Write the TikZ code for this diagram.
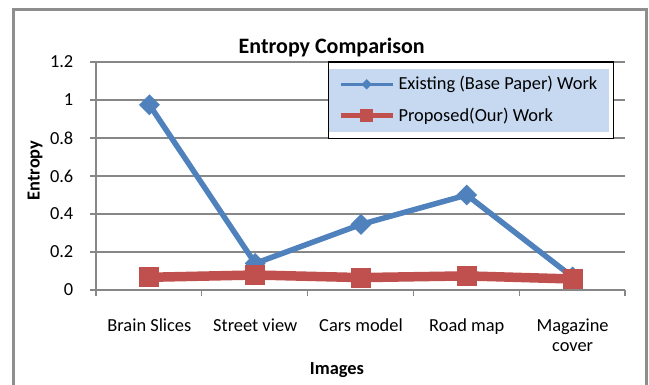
\documentclass[tikz,border=0pt]{standalone}
\usepackage{fontspec}
\setmainfont{Carlito}
\usetikzlibrary{shapes.geometric}
\definecolor{serblue}{HTML}{4F81BD}
\definecolor{serred}{HTML}{C0504D}
\definecolor{gridgray}{HTML}{878787}
\definecolor{framegray}{HTML}{8E8E8E}
\definecolor{legfill}{HTML}{C6D9F1}
\tikzset{
  gridline/.style={draw=gridgray, line width=1.2pt},
  ticklabel/.style={anchor=east, inner sep=0pt, font=\fontsize{18.4}{22}\selectfont},
  catlabel/.style={anchor=base, inner sep=0pt, align=center, font=\fontsize{18.4}{20.3}\selectfont},
  axtitle/.style={inner sep=0pt, font=\bfseries\fontsize{18.4}{22}\selectfont},
  bline/.style={draw=serblue, line width=5.5pt, line join=round},
  rline/.style={draw=serred, line width=9.5pt},
  bdia/.style={diamond, fill=serblue, inner sep=0pt, minimum width=21pt, minimum height=21pt},
  rsq/.style={rectangle, fill=serred, inner sep=0pt, minimum size=20pt},
  legbline/.style={draw=serblue, line width=3.5pt},
  legrline/.style={draw=serred, line width=5pt},
  legdia/.style={diamond, fill=serblue, inner sep=0pt, minimum width=10.5pt, minimum height=10.5pt},
  legsq/.style={rectangle, fill=serred, inner sep=0pt, minimum size=13pt},
  legtext/.style={anchor=base west, inner sep=0pt, font=\fontsize{18.4}{22}\selectfont}
}
\begin{document}
\begin{tikzpicture}[x=1pt,y=-1pt]
\useasboundingbox (0,0) rectangle (649,385);
\clip (0,0) rectangle (649,385);
\fill[white] (0,0) rectangle (649,385);
% outer frame
\draw[framegray, line width=3pt] (13,400) -- (13,10) -- (646.5,10) -- (646.5,400);
% title
\node[axtitle, font=\bfseries\fontsize{22}{26}\selectfont, anchor=base] (title) at (331.7,54) {Entropy Comparison};
% gridlines
\foreach \v/\y in {0.2/252,0.4/214,0.6/176,0.8/138,1/100,1.2/62} {
  \draw[gridline] (90,\y) -- (625,\y);
}
\foreach \v/\y in {0/290,0.2/252,0.4/214,0.6/176,0.8/138,1/100,1.2/62} {
  \node[ticklabel] at (73.5,\y) {\v};
}
% axes
\draw[gridline] (96,62) -- (96,290);
\draw[gridline] (90,290) -- (625,290);
\foreach \x in {96,201.8,307.6,413.4,519.2,625} {
  \draw[gridline] (\x,290) -- (\x,296.5);
}
% category labels
\node[catlabel] (c1) at (149.4,331.7) {Brain Slices};
\node[catlabel] (c2) at (255.2,331.7) {Street view};
\node[catlabel] (c3) at (361.0,331.7) {Cars model};
\node[catlabel] (c4) at (466.8,331.7) {Road map};
\node[catlabel] (c5) at (572.6,351.7) {Magazine\\cover};
% axis titles
\node[axtitle, anchor=base] (xt) at (337,374.5) {Images};
\node[axtitle, rotate=90] (yt) at (35,170.5) {Entropy};
% existing series
\coordinate (b1) at (149.4,104.8);
\coordinate (b2) at (255.2,263.4);
\coordinate (b3) at (361.0,224.4);
\coordinate (b4) at (466.8,195.0);
\coordinate (b5) at (572.6,277.0);
\draw[bline] (b1) -- (b2) -- (b3) -- (b4) -- (b5);
\foreach \p in {b1,b2,b3,b4,b5} { \node[bdia] at (\p) {}; }
% proposed series
\coordinate (r1) at (149.4,277.3);
\coordinate (r2) at (255.2,275.0);
\coordinate (r3) at (361.0,277.6);
\coordinate (r4) at (466.8,275.9);
\coordinate (r5) at (572.6,279.0);
\draw[rline] (r1) -- (r2) -- (r3) -- (r4) -- (r5);
\foreach \p in {r1,r2,r3,r4,r5} { \node[rsq] at (\p) {}; }
% legend
\node[draw=black, line width=1.3pt, fill=white, inner sep=0pt, minimum width=284.7pt, minimum height=76.5pt, anchor=north west] (leg) at (328,61.5) {};
\fill[legfill] (329,69.5) rectangle (608.5,132.5);
\coordinate (l1a) at (340.7,84.3);
\coordinate (l1b) at (392.7,84.3);
\coordinate (l2a) at (340.7,115.7);
\coordinate (l2b) at (392.7,115.7);
\draw[legbline] (l1a) -- (l1b);
\node[legdia] (ld) at (366.7,84.3) {};
\draw[legrline] (l2a) -- (l2b);
\node[legsq] (ls) at (366.7,115.7) {};
\node[legtext] (lt1) at (398.3,90) {Existing (Base Paper) Work};
\node[legtext] (lt2) at (398.3,121.7) {Proposed(Our) Work};
\end{tikzpicture}
\end{document}
